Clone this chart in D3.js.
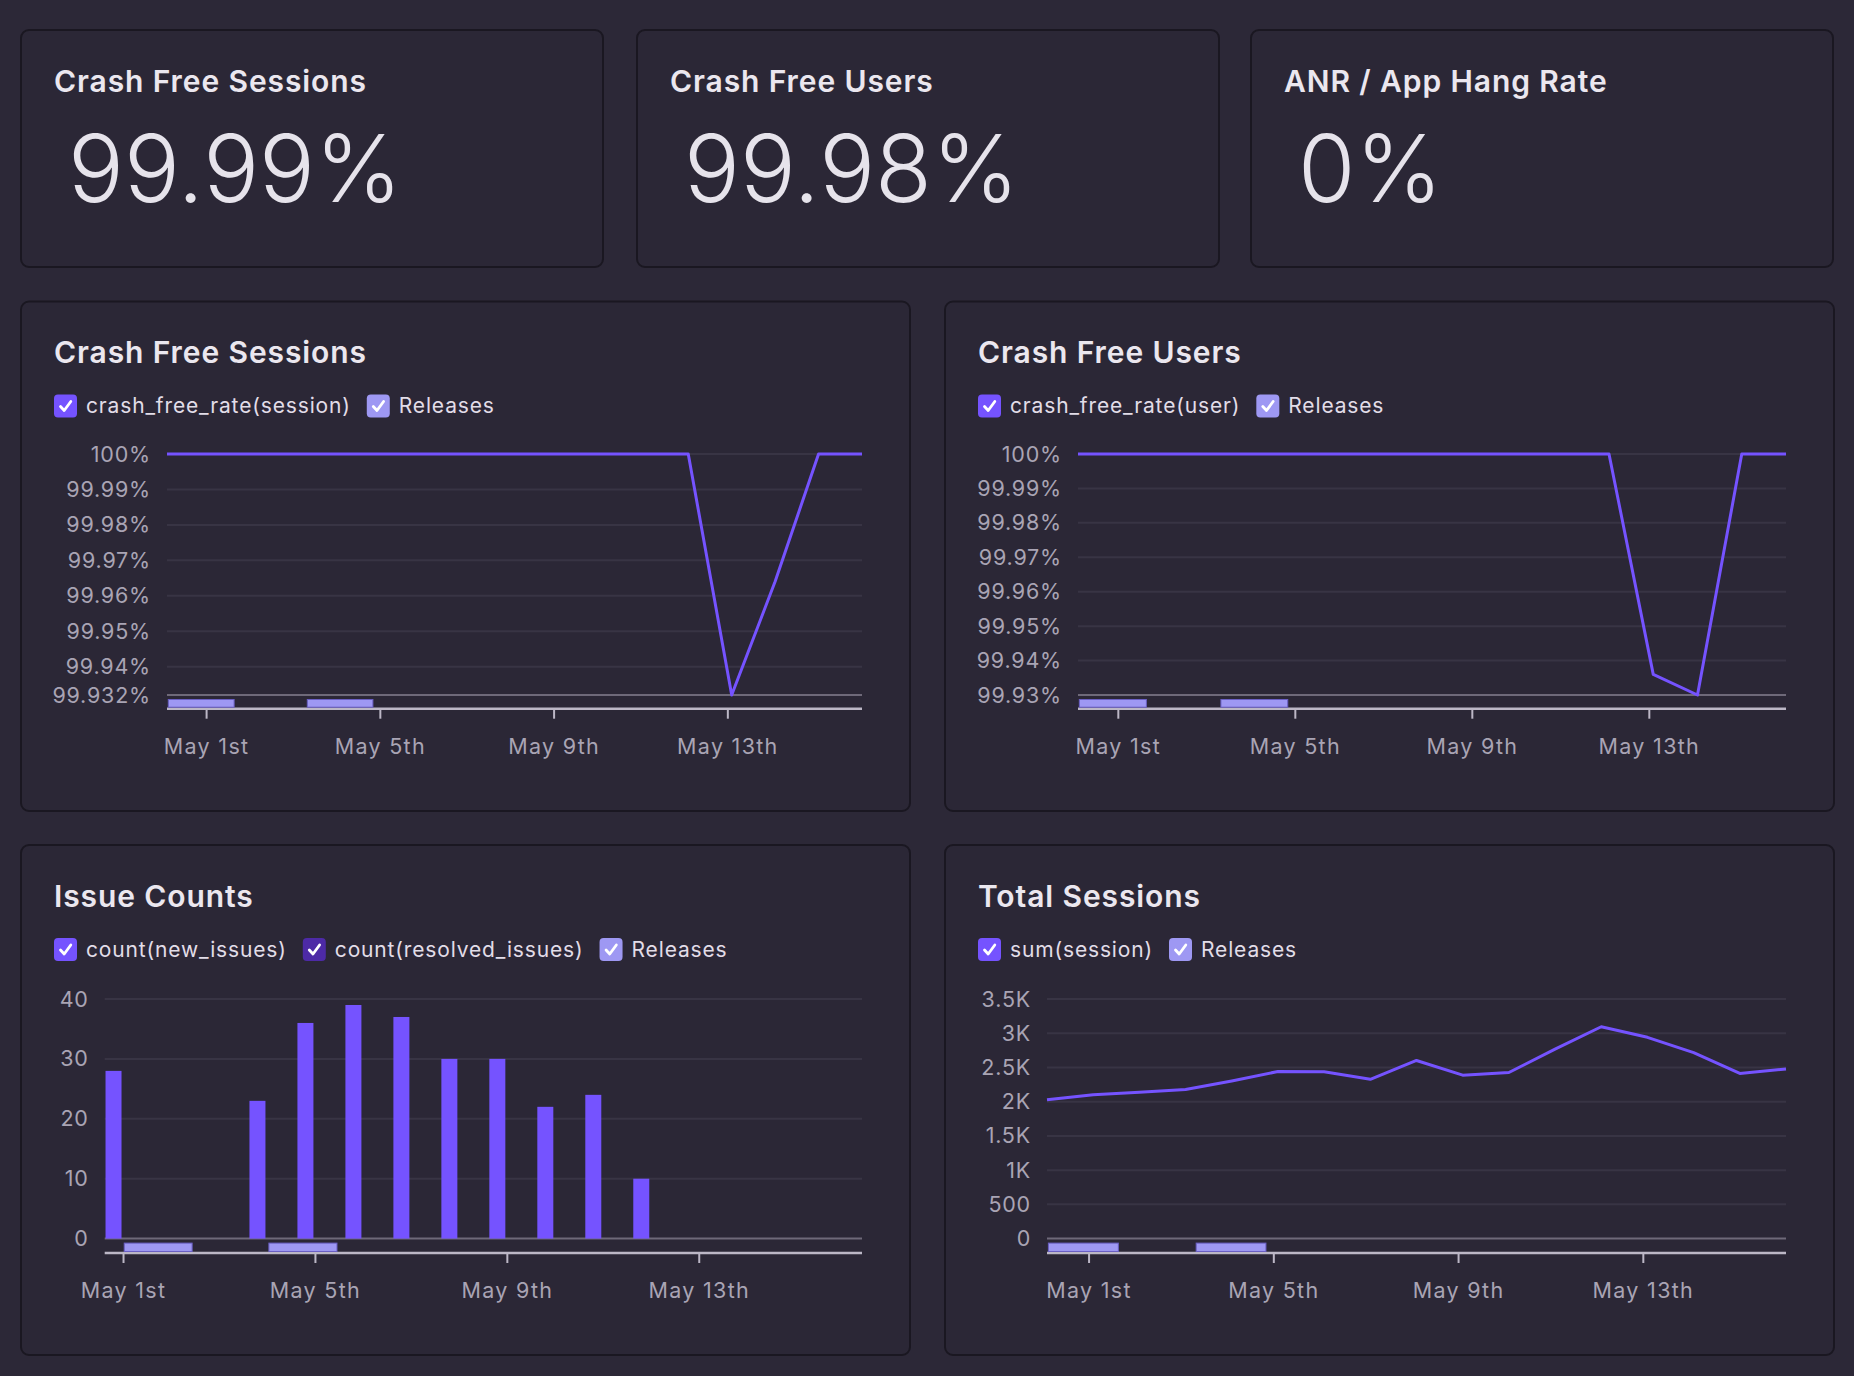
<!DOCTYPE html>
<html><head><meta charset="utf-8">
<script src="https://cdn.jsdelivr.net/npm/d3@7"></script>
<style>
html,body{margin:0;padding:0;background:#2c2837;}
svg{display:block;font-family:Inter,"Noto Sans",sans-serif;}
</style></head><body>
<svg id="c" width="1854" height="1376"></svg>
<script>
// ---------- DATA ----------
const summaryTitles = ["Crash Free Sessions", "Crash Free Users", "ANR / App Hang Rate"];
const summaryValues = ["99.99%", "99.98%", "0%"];

const dates = [
  "2024-04-30T02:24","2024-05-01T02:24","2024-05-02T02:24","2024-05-03T02:24",
  "2024-05-04T02:24","2024-05-05T02:24","2024-05-06T02:24","2024-05-07T02:24",
  "2024-05-08T02:24","2024-05-09T02:24","2024-05-10T02:24","2024-05-11T02:24",
  "2024-05-12T02:24","2024-05-13T02:24","2024-05-14T02:24","2024-05-15T02:24",
  "2024-05-16T02:24"
];
const crashFreeSessions = [100,100,100,100,100,100,100,100,100,100,100,100,100,99.932,99.964,100,100];
const crashFreeUsers    = [100,100,100,100,100,100,100,100,100,100,100,100,100,99.936,99.930,100,100];
const totalSessions     = [2028,2102,2137,2177,2302,2441,2436,2327,2602,2387,2426,2767,3095,2940,2717,2412,2477];

const issueDates = [
  "2024-05-01T00:00","2024-05-02T00:00","2024-05-03T00:00","2024-05-04T00:00",
  "2024-05-05T00:00","2024-05-06T00:00","2024-05-07T00:00","2024-05-08T00:00",
  "2024-05-09T00:00","2024-05-10T00:00","2024-05-11T00:00","2024-05-12T00:00",
  "2024-05-13T00:00","2024-05-14T00:00","2024-05-15T00:00","2024-05-16T00:00"
];
const newIssues      = [28,0,0,23,36,39,37,30,30,22,24,10,0,0,0,0];
const resolvedIssues = [0,0,0,0,0,0,0,0,0,0,0,0,0,0,0,0];

const releaseStarts      = ["2024-04-30T03:07","2024-05-03T07:55"];
const releaseEnds        = ["2024-05-01T15:29","2024-05-04T20:10"];
const issueReleaseStarts = ["2024-05-01T00:36","2024-05-04T00:58"];
const issueReleaseEnds   = ["2024-05-02T10:34","2024-05-05T11:02"];

const xTickDates  = ["2024-05-01T00:00","2024-05-05T00:00","2024-05-09T00:00","2024-05-13T00:00"];
const xTickLabels = ["May 1st","May 5th","May 9th","May 13th"];

const sessRateTicks  = [99.932,99.94,99.95,99.96,99.97,99.98,99.99,100];
const sessRateLabels = ["99.932%","99.94%","99.95%","99.96%","99.97%","99.98%","99.99%","100%"];
const userRateTicks  = [99.93,99.94,99.95,99.96,99.97,99.98,99.99,100];
const userRateLabels = ["99.93%","99.94%","99.95%","99.96%","99.97%","99.98%","99.99%","100%"];
const issueTicks     = [0,10,20,30,40];
const issueLabels    = ["0","10","20","30","40"];
const sessionTicks   = [0,500,1000,1500,2000,2500,3000,3500];
const sessionLabels  = ["0","500","1K","1.5K","2K","2.5K","3K","3.5K"];

// ---------- STYLE ----------
const C = {
  panel:"#2b2736", border:"#1a1721", title:"#ebe7ef", big:"#e6e3eb",
  legendText:"#e2dde8", axisText:"#a9a4b4", grid:"#383444", minLine:"#6e6979",
  axis:"#bcb7c6", series:"#7553ff", resolved:"#4d2aa6", release:"#9e98f3", releaseStroke:"#6a5fc4"
};
const P = d => new Date(d);
const svg = d3.select("#c");
svg.append("rect").attr("width",1854).attr("height",1376).attr("fill","#2c2837");

function panel(x,y,w,h){
  const g = svg.append("g");
  g.append("rect").attr("x",x).attr("y",y).attr("width",w).attr("height",h)
    .attr("rx",8).attr("fill",C.panel).attr("stroke",C.border).attr("stroke-width",2);
  return g;
}
function title(g,x,y,t){
  g.append("text").attr("x",x).attr("y",y).text(t)
    .attr("fill",C.title).attr("font-size",30).attr("font-weight",600).attr("letter-spacing",0.9);
}
function legend(g,x,cy,items){
  let cx = x;
  items.forEach(it=>{
    const b = g.append("g").attr("transform",`translate(${cx},${cy-11.5})`);
    b.append("rect").attr("width",23).attr("height",23).attr("rx",4).attr("fill",it.color);
    b.append("path").attr("d","M6.5,12 L10.2,16 L16.8,7").attr("fill","none")
      .attr("stroke","#fff").attr("stroke-width",2.8).attr("stroke-linecap","round").attr("stroke-linejoin","round");
    const t = g.append("text").attr("x",cx+32).attr("y",cy).attr("dy","0.35em")
      .attr("fill",C.legendText).attr("font-size",21).attr("letter-spacing",0.85).text(it.label);
    cx += 32 + t.node().getComputedTextLength() + 16;
  });
}
function axes(g,cfg,x,y){
  cfg.yTicks.forEach((v,i)=>{
    const yy = y(v);
    if(i>0) g.append("line").attr("x1",cfg.plot[0]).attr("x2",cfg.plot[1]).attr("y1",yy).attr("y2",yy)
      .attr("stroke",C.grid).attr("stroke-width",2);
    g.append("text").attr("x",cfg.plot[0]-16).attr("y",yy).attr("dy","0.35em").attr("text-anchor","end")
      .attr("fill",C.axisText).attr("font-size",21.5).attr("letter-spacing",0.8).text(cfg.yLabels[i]);
  });
  g.append("line").attr("x1",cfg.plot[0]).attr("x2",cfg.plot[1]).attr("y1",y(cfg.yTicks[0])).attr("y2",y(cfg.yTicks[0]))
    .attr("stroke",C.minLine).attr("stroke-width",2);
  const ax = g.append("g").attr("transform",`translate(0,${cfg.axisY})`)
    .call(d3.axisBottom(x).tickValues(xTickDates.map(P)).tickSize(10).tickPadding(20)
      .tickFormat((d,i)=>xTickLabels[i]));
  ax.select(".domain").remove();
  ax.selectAll(".tick line").attr("stroke",C.axis).attr("stroke-width",2);
  ax.selectAll(".tick text").attr("fill",C.axisText).attr("font-size",21.5).attr("letter-spacing",1.3)
    .attr("font-family","Inter, 'Noto Sans', sans-serif");
  g.append("line").attr("x1",cfg.plot[0]).attr("x2",cfg.plot[1]).attr("y1",cfg.axisY).attr("y2",cfg.axisY)
    .attr("stroke",C.axis).attr("stroke-width",2.5);
  const minY = y(cfg.yTicks[0]);
  cfg.relStarts.forEach((s,i)=>{
    const x0 = x(P(s)), x1 = x(P(cfg.relEnds[i]));
    g.append("rect").attr("x",x0).attr("y",minY+4.5).attr("width",x1-x0).attr("height",cfg.axisY-minY-6)
      .attr("fill",C.release).attr("stroke",C.releaseStroke).attr("stroke-width",1);
  });
}
function lineChart(cfg){
  const [px,py,pw,ph] = cfg.panel;
  const g = panel(px,py,pw,ph);
  title(g,px+33,py+61.5,cfg.title);
  legend(g,px+33,py+104.5,cfg.legend);
  const x = d3.scaleTime().domain([P(dates[0]),P(dates[dates.length-1])]).range(cfg.plot);
  const y = d3.scaleLinear().domain([cfg.yTicks[0],cfg.yTicks[cfg.yTicks.length-1]]).range([cfg.yBot,cfg.yTop]);
  axes(g,cfg,x,y);
  g.append("path").datum(cfg.values)
    .attr("d",d3.line().x((d,i)=>x(P(dates[i]))).y(d=>y(d)))
    .attr("fill","none").attr("stroke",C.series).attr("stroke-width",3).attr("stroke-linejoin","round");
}

// ---------- summary cards ----------
const cardX = [21,637,1251];
summaryTitles.forEach((t,i)=>{
  const g = panel(cardX[i],30,582,237);
  title(g,cardX[i]+33,91.5,t);
  g.append("text").attr("x",cardX[i]+47).attr("y",202).text(summaryValues[i])
    .attr("fill",C.big).attr("font-size",93).attr("font-weight",300);
});

// ---------- line charts ----------
lineChart({
  panel:[21,301.5,889,509.5], title:"Crash Free Sessions",
  legend:[{label:"crash_free_rate(session)",color:C.series},{label:"Releases",color:C.release}],
  plot:[167,862], yTop:454, yBot:695, axisY:708.7,
  yTicks:sessRateTicks, yLabels:sessRateLabels, values:crashFreeSessions,
  relStarts:releaseStarts, relEnds:releaseEnds
});
lineChart({
  panel:[945,301.5,889,509.5], title:"Crash Free Users",
  legend:[{label:"crash_free_rate(user)",color:C.series},{label:"Releases",color:C.release}],
  plot:[1078,1786], yTop:454, yBot:695, axisY:708.7,
  yTicks:userRateTicks, yLabels:userRateLabels, values:crashFreeUsers,
  relStarts:releaseStarts, relEnds:releaseEnds
});
lineChart({
  panel:[945,845,889,510], title:"Total Sessions",
  legend:[{label:"sum(session)",color:C.series},{label:"Releases",color:C.release}],
  plot:[1047,1786], yTop:999, yBot:1238.6, axisY:1253,
  yTicks:sessionTicks, yLabels:sessionLabels, values:totalSessions,
  relStarts:releaseStarts, relEnds:releaseEnds
});

// ---------- bar chart ----------
(function(){
  const cfg = {
    plot:[104.7,862], yTop:999, yBot:1238.6, axisY:1253,
    yTicks:issueTicks, yLabels:issueLabels,
    relStarts:issueReleaseStarts, relEnds:issueReleaseEnds
  };
  const g = panel(21,845,889,510);
  title(g,54,906.5,"Issue Counts");
  legend(g,54,949.5,[
    {label:"count(new_issues)",color:C.series},
    {label:"count(resolved_issues)",color:C.resolved},
    {label:"Releases",color:C.release}]);
  const x = d3.scaleTime().domain([P("2024-04-30T14:50"),P("2024-05-16T09:40")]).range(cfg.plot);
  const y = d3.scaleLinear().domain([0,40]).range([cfg.yBot,cfg.yTop]);
  axes(g,cfg,x,y);
  g.selectAll("rect.new").data(newIssues).join("rect").attr("class","new")
    .attr("x",(d,i)=>x(P(issueDates[i]))-17.5).attr("width",16)
    .attr("y",d=>y(d)).attr("height",d=>y(0)-y(d)).attr("fill",C.series);
  g.selectAll("rect.res").data(resolvedIssues).join("rect").attr("class","res")
    .attr("x",(d,i)=>x(P(issueDates[i]))+1.5).attr("width",16)
    .attr("y",d=>y(d)).attr("height",d=>y(0)-y(d)).attr("fill",C.resolved);
})();
</script>
</body></html>
